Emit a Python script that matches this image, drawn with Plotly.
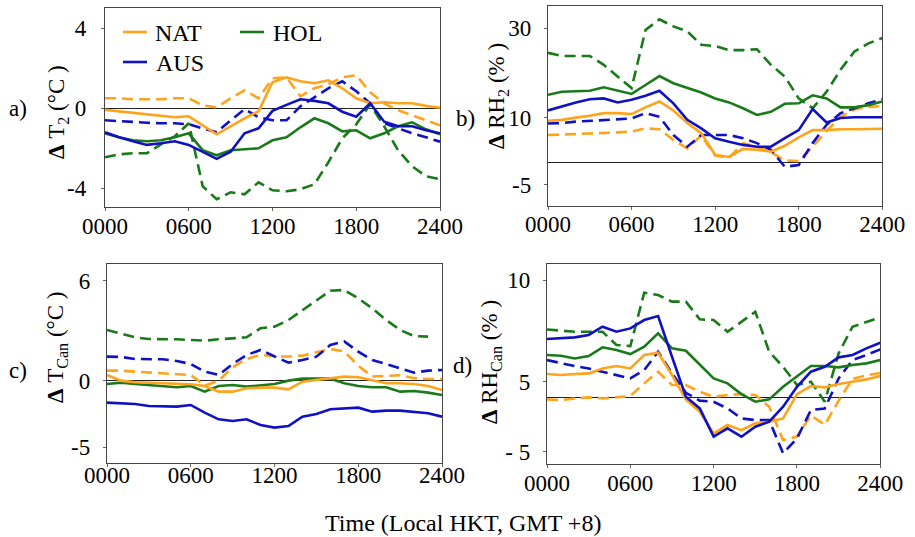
import plotly.graph_objects as go

hours = list(range(25))
x_tickvals = [0, 6, 12, 18, 24]
x_ticktext = ["0000", "0600", "1200", "1800", "2400"]

# ---- panel a: delta T2 ----
a_nat_solid = [-0.08,-0.15,-0.22,-0.3,-0.35,-0.45,-0.4,-0.85,-1.3,-0.9,-0.5,-0.15,1.3,1.55,1.35,1.25,1.4,1.0,0.5,0.25,0.3,0.25,0.25,0.12,0.03]
a_nat_dash = [0.5,0.5,0.45,0.45,0.45,0.5,0.5,0.15,0.05,0.5,0.9,0.5,1.5,1.55,0.6,1.0,1.2,1.55,1.65,0.8,0.25,-0.1,-0.35,-0.6,-0.85]
a_aus_solid = [-1.2,-1.45,-1.65,-1.83,-1.75,-1.65,-1.83,-2.17,-2.53,-2.17,-1.25,-1.0,-0.13,0.17,0.45,0.37,0.25,-0.17,-0.42,0.25,-0.67,-0.9,-0.9,-1.1,-1.25]
a_aus_dash = [-0.6,-0.65,-0.7,-0.72,-0.75,-0.75,-0.8,-1.0,-1.2,-0.6,-0.05,-0.45,-0.6,-0.6,0.1,0.55,1.0,1.35,0.85,0.25,-0.75,-1.0,-1.25,-1.45,-1.67]
a_hol_solid = [-1.25,-1.45,-1.6,-1.65,-1.6,-1.45,-1.25,-2.1,-2.35,-2.1,-2.05,-2.0,-1.6,-1.45,-0.95,-0.5,-0.75,-1.15,-1.1,-1.5,-1.25,-0.9,-0.7,-1.05,-1.3]
a_hol_dash = [-2.45,-2.3,-2.25,-2.25,-1.8,-1.4,-0.75,-3.9,-4.55,-4.2,-4.3,-3.7,-4.1,-4.15,-4.05,-3.8,-2.7,-1.5,-0.8,0.2,-0.9,-2.1,-2.9,-3.4,-3.55]

# ---- panel b: delta RH2 ----
b_nat_solid = [9.3,9.5,10.0,10.4,11.0,11.0,10.8,12.3,13.6,11.6,8.8,6.5,1.7,1.2,3.0,2.8,2.4,3.7,5.6,7.2,7.2,7.4,7.4,7.5,7.5]
b_nat_dash = [6.1,6.2,6.3,6.4,6.6,6.7,6.9,7.6,7.4,5.0,3.1,6.0,1.5,1.0,4.3,3.5,2.3,0.4,0.3,3.5,7.0,10.2,11.8,12.4,12.6]
b_aus_solid = [11.6,12.5,13.4,14.1,14.3,13.4,14.0,14.9,16.0,13.2,9.5,7.6,5.4,4.6,3.9,3.5,3.5,5.4,7.2,11.9,8.9,9.9,10.1,10.1,10.1]
b_aus_dash = [8.7,8.8,9.1,9.3,9.5,9.7,9.8,11.0,10.2,6.1,3.5,6.1,6.1,6.1,5.4,4.3,2.8,-1.0,-0.6,4.3,8.4,11.0,12.1,13.2,14.1]
b_hol_solid = [15.1,15.8,15.9,16.0,16.8,16.0,15.3,17.3,19.3,17.7,16.7,15.6,14.3,13.4,12.1,10.6,11.3,13.1,13.2,15.0,14.3,12.3,12.3,12.8,13.6]
b_hol_dash = [24.5,23.8,23.8,23.8,21.8,19.2,16.6,29.6,32.0,30.4,29.3,26.3,26.0,25.1,25.1,25.3,21.8,19.2,14.3,12.1,15.8,20.7,24.8,26.6,27.8]

# ---- panel c: delta T canopy ----
c_nat_solid = [0.34,0.0,-0.1,-0.12,-0.16,-0.18,-0.22,-0.32,-0.66,-0.66,-0.46,-0.42,-0.42,-0.52,-0.06,0.04,0.14,0.24,0.2,0.0,-0.16,-0.16,-0.2,-0.32,-0.56]
c_nat_dash = [0.6,0.6,0.54,0.5,0.44,0.4,0.34,-0.3,0.0,0.8,1.3,1.55,1.45,1.45,1.5,1.7,1.9,1.75,0.9,0.25,0.28,0.32,0.15,0.1,0.1]
c_aus_solid = [-1.32,-1.36,-1.4,-1.52,-1.56,-1.56,-1.46,-1.92,-2.32,-2.42,-2.32,-2.66,-2.82,-2.72,-2.16,-2.0,-1.72,-1.66,-1.62,-1.86,-1.8,-1.8,-1.86,-1.96,-2.16]
c_aus_dash = [1.44,1.42,1.3,1.28,1.28,1.18,1.0,0.54,0.34,1.0,1.54,1.84,1.44,1.08,1.24,1.44,2.14,2.35,1.74,1.24,1.0,0.74,0.48,0.6,0.64]
c_hol_solid = [-0.2,-0.12,-0.2,-0.26,-0.32,-0.4,-0.32,-0.66,-0.32,-0.26,-0.36,-0.28,-0.2,0.0,0.12,0.12,0.12,-0.16,-0.32,-0.4,-0.4,-0.66,-0.62,-0.72,-0.86]
c_hol_dash = [3.04,2.8,2.6,2.5,2.5,2.48,2.44,2.4,2.48,2.54,2.6,3.14,3.24,3.64,4.24,4.84,5.4,5.44,4.94,4.34,3.64,3.04,2.68,2.64,None]

# ---- panel d: delta RH canopy ----
d_nat_solid = [2.01,1.93,2.01,2.07,2.49,2.69,2.49,3.63,3.82,1.93,-0.14,-1.19,-3.03,-2.32,-2.75,-2.18,-2.04,-1.76,0.3,0.99,0.88,1.16,1.36,1.56,1.84]
d_nat_dash = [-0.14,-0.2,-0.06,0.03,-0.06,0.03,0.14,1.22,2.21,1.08,1.08,0.51,0.08,0.23,0.31,0.23,-0.76,-3.6,-3.3,-1.5,-2.3,-0.25,1.6,1.9,2.1]
d_aus_solid = [4.99,5.04,5.13,5.33,6.03,5.61,5.89,6.6,6.94,3.48,0.08,-0.91,-3.31,-2.6,-3.31,-2.46,-2.04,-0.76,0.93,2.21,2.63,3.43,3.63,4.19,4.67]
d_aus_dash = [3.2,2.92,2.69,2.49,2.21,1.93,1.64,2.35,3.91,2.07,0.42,-0.25,-0.34,-0.91,-1.76,-1.9,-1.9,-4.73,-3.46,-1.05,-0.91,1.64,3.2,3.63,4.11]
d_hol_solid = [3.63,3.57,3.34,3.54,4.28,4.05,3.71,4.33,5.47,4.19,3.99,2.78,1.64,1.22,0.31,-0.34,-0.14,0.93,1.78,2.69,2.69,2.58,2.78,2.92,3.2]
d_hol_dash = [5.8,5.7,5.6,5.6,5.6,4.48,4.39,8.92,8.73,8.16,8.16,6.66,6.6,5.6,6.46,7.3,3.9,2.63,1.08,1.36,-0.34,3.77,6.03,6.46,6.83]

# y tick labels as printed, at the heights where they appear in the original figure
a_ytickvals = [-4, 0, 4];        a_yticktext = ["-4", "0", "4"]
b_ytickvals = [-5, 10, 30];      b_yticktext = ["-5", "10", "30"]
c_ytickvals = [-4.0, 0, 6];      c_yticktext = ["-5", "0", "6"]
d_ytickvals = [-4.59, 1.36, 10]; d_yticktext = ["- 5", "5", "10"]

panel_titles = ["<b>Δ</b> T<sub>2</sub> (°C )", "<b>Δ</b> RH<sub>2</sub> (% )",
                "<b>Δ</b> T<sub>Can</sub> (°C )", "<b>Δ</b> RH<sub>Can</sub> (% )"]
panel_letters = ["a)", "b)", "c)", "d)"]
scenarios = ["NAT", "AUS", "HOL"]

W, H = 915, 537
ORANGE, BLUE, GREEN = "#FFA31A", "#1111C4", "#1A7A1A"
colors = {"NAT": ORANGE, "AUS": BLUE, "HOL": GREEN}
FONT = "Liberation Serif"

panels = [
    dict(data={"NAT": (a_nat_solid, a_nat_dash), "AUS": (a_aus_solid, a_aus_dash), "HOL": (a_hol_solid, a_hol_dash)},
         box=(105, 440, 8.3, 207.3), yr=[-4.95, 5.0], tv=a_ytickvals, tt=a_yticktext,
         title_xy=(58, 112), letter_xy=(18, 108), xstand=-5, ystand=10),
    dict(data={"NAT": (b_nat_solid, b_nat_dash), "AUS": (b_aus_solid, b_aus_dash), "HOL": (b_hol_solid, b_hol_dash)},
         box=(548, 882.3, 6.3, 205.7), yr=[-9.7, 34.9], tv=b_ytickvals, tt=b_yticktext,
         title_xy=(498, 96), letter_xy=(465, 118), xstand=-5, ystand=8),
    dict(data={"NAT": (c_nat_solid, c_nat_dash), "AUS": (c_aus_solid, c_aus_dash), "HOL": (c_hol_solid, c_hol_dash)},
         box=(107, 442, 264, 463.3), yr=[-4.96, 7.0], tv=c_ytickvals, tt=c_yticktext,
         title_xy=(57, 347), letter_xy=(18, 370), xstand=-12, ystand=8),
    dict(data={"NAT": (d_nat_solid, d_nat_dash), "AUS": (d_aus_solid, d_aus_dash), "HOL": (d_hol_solid, d_hol_dash)},
         box=(547, 880.3, 264, 464), yr=[-5.63, 11.36], tv=d_ytickvals, tt=d_yticktext,
         title_xy=(491, 362), letter_xy=(463, 365), xstand=-5, ystand=8),
]

fig = go.Figure()
layout = dict(width=W, height=H, margin=dict(l=0, r=0, t=0, b=0, autoexpand=False),
              paper_bgcolor="white", plot_bgcolor="white", showlegend=False,
              font=dict(family=FONT, size=23, color="black"))
annotations, shapes = [], []

for i, p in enumerate(panels):
    n = "" if i == 0 else str(i + 1)
    xa, ya = "x" + n, "y" + n
    x0, x1, y0, y1 = p["box"]
    for s in scenarios:
        solid, dash = p["data"][s]
        fig.add_trace(go.Scatter(x=hours, y=dash, mode="lines", name=s + " (dashed)", xaxis=xa, yaxis=ya,
                                 line=dict(color=colors[s], width=2.6, dash="11px,6px")))
    for s in ["HOL", "NAT", "AUS"]:
        solid, dash = p["data"][s]
        fig.add_trace(go.Scatter(x=hours, y=solid, mode="lines", name=s, xaxis=xa, yaxis=ya,
                                 line=dict(color=colors[s], width=2.6)))
    axcommon = dict(showline=True, mirror=True, linecolor="#444", linewidth=1.3, showgrid=False,
                    ticks="outside", ticklen=3, tickcolor="#666", automargin=False,
                    tickfont=dict(family=FONT, size=23, color="black"))
    layout["xaxis" + n] = dict(axcommon, domain=[x0 / W, x1 / W], range=[0, 24], anchor=ya,
                               tickvals=x_tickvals, ticktext=x_ticktext, zeroline=False,
                               ticklabelstandoff=p["xstand"])
    layout["yaxis" + n] = dict(axcommon, domain=[1 - y1 / H, 1 - y0 / H], range=p["yr"], anchor=xa,
                               tickvals=p["tv"], ticktext=p["tt"], zeroline=True,
                               zerolinecolor="#222", zerolinewidth=1.3, ticklabelstandoff=p["ystand"])
    tx, ty = p["title_xy"]
    annotations.append(dict(x=tx / W, y=1 - ty / H, xref="paper", yref="paper", text=panel_titles[i],
                            textangle=-90, showarrow=False, xanchor="center", yanchor="middle",
                            font=dict(family=FONT, size=23, color="black")))
    lx, ly = p["letter_xy"]
    annotations.append(dict(x=lx / W, y=1 - ly / H, xref="paper", yref="paper", text=panel_letters[i],
                            showarrow=False, xanchor="center", yanchor="middle",
                            font=dict(family=FONT, size=23, color="black")))

# legend drawn inside panel a
legend_items = [("NAT", 123, 147, 32, 153), ("HOL", 240, 264, 32, 271), ("AUS", 123, 147, 62, 154)]
for name, lx0, lx1, ly, tx in legend_items:
    shapes.append(dict(type="line", xref="paper", yref="paper", x0=lx0 / W, x1=lx1 / W,
                       y0=1 - ly / H, y1=1 - ly / H, line=dict(color=colors[name], width=2.6)))
    annotations.append(dict(x=tx / W, y=1 - (ly + 1) / H, xref="paper", yref="paper", text=name,
                            showarrow=False, xanchor="left", yanchor="middle",
                            font=dict(family=FONT, size=24, color="black")))

annotations.append(dict(x=463 / W, y=1 - 523 / H, xref="paper", yref="paper",
                        text="Time (Local HKT, GMT +8)", showarrow=False,
                        xanchor="center", yanchor="middle", font=dict(family=FONT, size=24, color="black")))

layout["annotations"] = annotations
layout["shapes"] = shapes
fig.update_layout(**layout)
fig.write_html("out.html")
